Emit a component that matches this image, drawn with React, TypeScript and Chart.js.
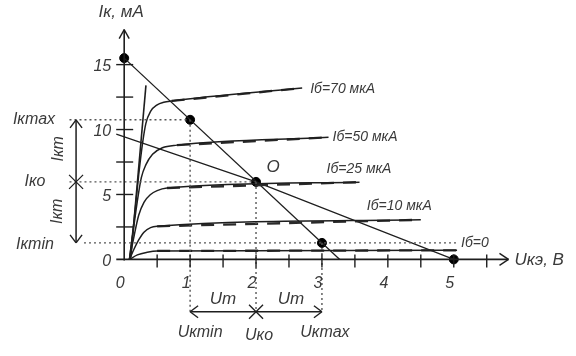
import React, { useEffect, useRef } from "react";
import { Chart, registerables } from "chart.js";

Chart.register(...registerables);

// ---- data (U in V, I in mA) ----
const voltageTicks = [0, 1, 2, 3, 4, 5];
const voltageMinorTicks = [0.5, 1, 1.5, 2, 2.5, 3, 3.5, 4, 4.5, 5, 5.5];
const currentTicks = [0, 5, 10, 15];
const currentMinorTicks = [2.5, 5, 7.5, 10, 12.5, 15];

const ib70 = [[0.08, 0], [0.15, 3], [0.22, 6.5], [0.28, 9], [0.33, 10.5], [0.4, 11.4], [0.5, 11.9], [0.6, 12.1], [0.72, 12.2], [2.7, 13.2]];
const ib50 = [[0.08, 0], [0.14, 2.3], [0.2, 4.5], [0.26, 6.3], [0.33, 7.3], [0.43, 8.1], [0.58, 8.6], [0.8, 8.8], [3.1, 9.4]];
const ib25 = [[0.08, 0], [0.15, 1.8], [0.22, 3.4], [0.3, 4.4], [0.4, 5.0], [0.5, 5.3], [0.65, 5.5], [3.57, 5.95]];
const ib10 = [[0.08, 0], [0.15, 0.8], [0.22, 1.5], [0.3, 2.1], [0.4, 2.45], [0.5, 2.55], [4.5, 3.05]];
const ib0 = [[0.08, 0], [0.2, 0.35], [0.35, 0.55], [0.5, 0.65], [5.05, 0.7]];
const curves = [ib70, ib50, ib25, ib10, ib0];
const curveLabels = ["Iб=70 мкА", "Iб=50 мкА", "Iб=25 мкА", "Iб=10 мкА", "Iб=0"];

const saturationLine = [[0.1, 0.15], [0.33, 13.4]];
const loadLineDC = [[0, 15.5], [3.27, 0]];
const loadLineAC = [[-0.12, 9.65], [2, 5.97], [5, 0]];
const markedPoints = [[0, 15.5], [1, 10.75], [2, 5.97], [3, 1.27], [5, 0]];

const ikMax = 10.75;
const ikO = 5.97;
const ikMin = 1.27;
const ukMin = 1;
const ukO = 2;
const ukMax = 3;

const INK = "#1e1e1e";
const TEXT = "#3a3a3a";
const FONT = '"Liberation Sans", Arial, sans-serif';

const pts = (a: number[][]) => a.map(([x, y]) => ({ x, y }));

export default function App() {
  const ref = useRef<HTMLCanvasElement | null>(null);

  useEffect(() => {
    document.body.style.margin = "0";
    const canvas = ref.current;
    if (!canvas) return;

    const line = (data: number[][], width = 1.3, dash: number[] = [], color = INK) => ({
      data: pts(data),
      showLine: true,
      borderColor: color,
      borderWidth: width,
      borderDash: dash,
      pointRadius: 0,
      fill: false,
      tension: 0,
    });

    const datasets: any[] = [];
    const dotted = [2, 3];
    datasets.push(line([[-0.83, ikMax], [ukMin, ikMax]], 1.4, dotted, "#555"));
    datasets.push(line([[-0.83, ikO], [ukO, ikO]], 1.4, dotted, "#555"));
    datasets.push(line([[-0.61, ikMin], [5.05, ikMin]], 1.4, dotted, "#555"));
    datasets.push(line([[ukMin, ikMax], [ukMin, -4.1]], 1.4, dotted, "#555"));
    datasets.push(line([[ukO, ikO], [ukO, -4.03]], 1.4, dotted, "#555"));
    datasets.push(line([[ukMax, ikMin], [ukMax, -4.1]], 1.4, dotted, "#555"));
    curves.forEach((c) => {
      const ds = line(c, 1.5);
      (ds as any).cubicInterpolationMode = "monotone";
      (ds as any).tension = 0.4;
      datasets.push(ds);
      datasets.push(line(c.slice(c.length - 2), 2.3, [13, 9], "#2a2a2a"));
    });
    datasets.push(line(saturationLine, 1.6));
    datasets.push(line(loadLineDC, 1.3));
    datasets.push(line(loadLineAC, 1.2));
    datasets.push({
      data: pts(markedPoints),
      showLine: false,
      pointRadius: 4.5,
      pointBackgroundColor: "#000",
      pointBorderColor: "#000",
    });

    const overlay = {
      id: "overlay",
      afterDatasetsDraw(chart: any) {
        const ctx = chart.ctx as CanvasRenderingContext2D;
        const X = (v: number) => chart.scales.x.getPixelForValue(v);
        const Y = (v: number) => chart.scales.y.getPixelForValue(v);
        ctx.save();
        ctx.strokeStyle = INK;
        ctx.lineCap = "butt";
        const seg = (x1: number, y1: number, x2: number, y2: number, w = 1.5) => {
          ctx.lineWidth = w;
          ctx.beginPath();
          ctx.moveTo(x1, y1);
          ctx.lineTo(x2, y2);
          ctx.stroke();
        };
        const x0 = X(0);
        const y0 = Y(0);
        const yTop = Y(17.7);
        const xRight = X(5.83);
        seg(x0, y0 + 1, x0, yTop, 1.6);
        seg(X(-0.12), y0, xRight, y0, 1.6);
        seg(x0 - 5, yTop + 9, x0, yTop, 1.4);
        seg(x0 + 5, yTop + 9, x0, yTop, 1.4);
        seg(xRight - 9, y0 - 6, xRight, y0, 1.4);
        seg(xRight - 9, y0 + 6, xRight, y0, 1.4);
        currentMinorTicks.forEach((v) => seg(x0 - 8, Y(v), x0 + 9, Y(v), 1.4));
        voltageMinorTicks.forEach((v) => seg(X(v), y0 - 5, X(v), y0 + 8, 1.4));

        // left vertical arrow Ikm
        const ax = X(-0.73);
        seg(ax, Y(ikMax) + 1, ax, Y(ikMin) - 1, 1.5);
        seg(ax - 6, Y(ikMax) + 8, ax, Y(ikMax), 1.4);
        seg(ax + 6, Y(ikMax) + 8, ax, Y(ikMax), 1.4);
        seg(ax - 6, Y(ikMin) - 8, ax, Y(ikMin), 1.4);
        seg(ax + 6, Y(ikMin) - 8, ax, Y(ikMin), 1.4);
        seg(ax - 7, Y(ikO) - 7, ax + 7, Y(ikO) + 7, 1.3);
        seg(ax - 7, Y(ikO) + 7, ax + 7, Y(ikO) - 7, 1.3);

        // bottom horizontal arrow Um
        const ay = Y(-4.03);
        seg(X(ukMin) + 1, ay, X(ukMax) - 1, ay, 1.5);
        seg(X(ukMin) + 8, ay - 6, X(ukMin), ay, 1.4);
        seg(X(ukMin) + 8, ay + 6, X(ukMin), ay, 1.4);
        seg(X(ukMax) - 8, ay - 6, X(ukMax), ay, 1.4);
        seg(X(ukMax) - 8, ay + 6, X(ukMax), ay, 1.4);
        seg(X(ukO) - 7, ay - 7, X(ukO) + 7, ay + 7, 1.3);
        seg(X(ukO) - 7, ay + 7, X(ukO) + 7, ay - 7, 1.3);

        ctx.fillStyle = TEXT;
        ctx.textBaseline = "middle";
        const text = (s: string, x: number, y: number, size = 14, align: CanvasTextAlign = "center") => {
          ctx.font = `italic ${size}px ${FONT}`;
          ctx.textAlign = align;
          ctx.fillText(s, x, y);
        };
        voltageTicks.forEach((v) => text(String(v), X(v) - 4, y0 + 24, 16));
        currentTicks.forEach((v) => text(String(v), x0 - 13, Y(v) + 2, 16, "right"));
        text("Iк, мА", x0 - 3, 12, 17);
        text("Uкэ, В", xRight + 6, y0 + 1, 17, "left");
        curves.forEach((c, i) => {
          const [ex, ey] = c[c.length - 1];
          const offs = [[8, 1], [4, 0], [-33, -13], [-54, -14], [4, -7]];
          text(curveLabels[i], X(ex) + offs[i][0], Y(ey) + offs[i][1], 14, "left");
        });
        text("O", X(ukO) + 17, Y(ikO) - 15, 17);
        text("Iкmax", 34, Y(ikMax), 16);
        text("Iкo", 35, Y(ikO), 16);
        text("Iкmin", 35, Y(ikMin) + 2, 16);
        const rot = (s: string, x: number, y: number) => {
          ctx.save();
          ctx.translate(x, y);
          ctx.rotate(-Math.PI / 2);
          text(s, 0, 0, 16);
          ctx.restore();
        };
        rot("Iкm", ax - 18, (Y(ikMax) + Y(ikO)) / 2 - 2);
        rot("Iкm", ax - 19, (Y(ikO) + Y(ikMin)) / 2 - 1);
        text("Um", (X(ukMin) + X(ukO)) / 2, ay - 12, 17);
        text("Um", (X(ukO) + X(ukMax)) / 2 + 2, ay - 12, 17);
        text("Uкmin", X(ukMin) + 10, ay + 21, 16);
        text("Uкo", X(ukO) + 3, ay + 24, 16);
        text("Uкmax", X(ukMax) + 3, ay + 21, 16);
        ctx.restore();
      },
    };

    const pxPerV = 67.2;
    const pxPerMA = 13.4;
    const xMin = -121 / pxPerV;
    const yMax = 262 / pxPerMA;

    const chart = new Chart(canvas, {
      type: "scatter",
      data: { datasets },
      options: {
        animation: false,
        responsive: false,
        maintainAspectRatio: false,
        layout: { padding: 0 },
        plugins: { legend: { display: false }, tooltip: { enabled: false } },
        scales: {
          x: { type: "linear", display: false, min: xMin, max: xMin + 576 / pxPerV },
          y: { type: "linear", display: false, min: yMax - 356 / pxPerMA, max: yMax },
        },
      },
      plugins: [overlay],
    });
    return () => chart.destroy();
  }, []);

  return (
    <div style={{ position: "fixed", left: 0, top: 0, width: 576, height: 356, background: "#fff" }}>
      <canvas ref={ref} width={576} height={356} />
    </div>
  );
}
